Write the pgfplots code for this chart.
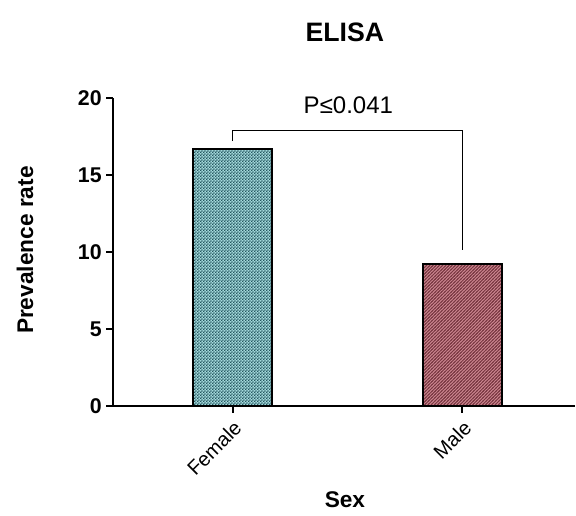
\documentclass[border=0pt]{standalone}
\usepackage{fontspec}
\setmainfont{Liberation Sans}
\usepackage{pgfplots}
\pgfplotsset{compat=1.18}
\usetikzlibrary{patterns}
\definecolor{femfill}{RGB}{165,218,220}
\definecolor{femdark}{RGB}{35,85,95}
\definecolor{malfill}{RGB}{205,135,145}
\definecolor{maldark}{RGB}{120,55,65}
\pgfdeclarepatternformonly{checker}{\pgfpointorigin}{\pgfpoint{2.4pt}{2.4pt}}{\pgfpoint{2.4pt}{2.4pt}}{%
  \pgfpathrectangle{\pgfpointorigin}{\pgfpoint{1.2pt}{1.2pt}}%
  \pgfpathrectangle{\pgfpoint{1.2pt}{1.2pt}}{\pgfpoint{1.2pt}{1.2pt}}%
  \pgfusepath{fill}}
\pgfdeclarepatternformonly{diagfine}{\pgfpoint{-1pt}{-1pt}}{\pgfpoint{3.4pt}{3.4pt}}{\pgfpoint{2.4pt}{2.4pt}}{%
  \pgfsetlinewidth{0.7pt}%
  \pgfpathmoveto{\pgfpoint{-0.5pt}{-0.5pt}}%
  \pgfpathlineto{\pgfpoint{2.9pt}{2.9pt}}%
  \pgfusepath{stroke}}
\begin{document}
\begin{tikzpicture}
\begin{axis}[
  scale only axis, width=346.5pt, height=231pt,
  xmin=-0.52, xmax=1.49, ymin=0, ymax=20,
  axis lines*=left,
  axis line style={line width=1.5pt},
  xtick={0,1}, xticklabels={Female,Male},
  ytick={0,5,10,15,20},
  tick style={line width=1.5pt, black},
  major tick length=5pt, tick align=outside,
  x tick label style={rotate=45, anchor=north east, font=\fontsize{15}{15}\selectfont},
  y tick label style={font=\bfseries\fontsize{16}{16}\selectfont},
  /pgf/number format/assume math mode=true,
  clip=false,
]
\addplot[ybar, bar width=0.343, bar shift=0pt, draw=black, line width=1.5pt, fill=femfill,
  postaction={pattern=checker, pattern color=femdark}] coordinates {(0,16.7)};
\addplot[ybar, bar width=0.343, bar shift=0pt, draw=black, line width=1.5pt, fill=malfill,
  postaction={pattern=diagfine, pattern color=maldark}] coordinates {(1,9.2)};
\addplot[black, line width=1pt, mark=none] coordinates {(0,17.2) (0,17.9) (1,17.9) (1,10.1)};
\node[font=\fontsize{18}{18}\selectfont] at (axis cs:0.504,19.55) {P≤0.041};
\coordinate (T) at (rel axis cs:0.502,1);
\coordinate (L) at (rel axis cs:0,0.506);
\coordinate (S) at (rel axis cs:0.502,0);
\coordinate (A) at (rel axis cs:0,0);
\coordinate (B) at (rel axis cs:1,1);
\end{axis}
\path (T) ++(0,49.5pt) node[font=\bfseries\fontsize{20}{20}\selectfont] {ELISA};
\path (L) ++(-66pt,0) node[rotate=90, font=\bfseries\fontsize{17}{17}\selectfont] {Prevalence rate};
\path (S) ++(0,-70.5pt) node[font=\bfseries\fontsize{17}{17}\selectfont] {Sex};
\path (A) ++(-84.75pt,-82.5pt) coordinate (C);
\path (B) ++(0.75pt,73.5pt) coordinate (D);
\path (C) rectangle (D);
\end{tikzpicture}
\end{document}
